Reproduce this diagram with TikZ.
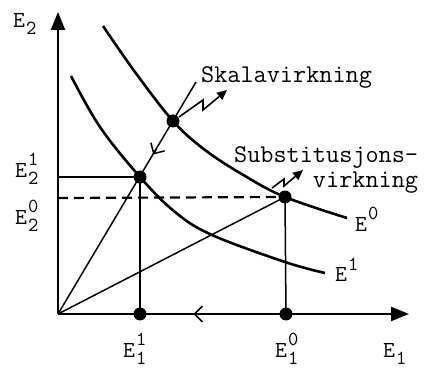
\documentclass[tikz,border=0pt]{standalone}
\usetikzlibrary{arrows.meta,calc}
\newcommand\txtfont{\ttfamily\fontsize{25.5}{28}\selectfont}
\newcommand\labfont{\ttfamily\fontsize{23}{26}\selectfont}
\newcommand\scrfont{\ttfamily\fontsize{20}{22}\selectfont}
\newcommand\EE[2]{E\kern1pt\rlap{\raisebox{12pt}{\scrfont #1}}\raisebox{-7pt}{\scrfont #2}}
\begin{document}
\begin{tikzpicture}[x=1pt,y=-1pt,
  axis/.style={line width=2.2pt},
  curve/.style={line width=2.6pt},
  thinline/.style={line width=1.5pt},
  dot/.style={circle,fill=black,inner sep=0pt,minimum size=13pt},
  lbl/.style={inner sep=0pt,font=\labfont},
  txt/.style={inner sep=0pt,font=\txtfont},
  bolt/.style={line width=1.6pt,-{Triangle[length=10pt,width=9pt]}},
  barb/.style={line width=1.5pt,-{Straight Barb[length=8pt,width=16pt]}}
  ]
\useasboundingbox (0,0) rectangle (424,369);
% points
\coordinate (O) at (58,314);
\coordinate (Ytop) at (58,12);
\coordinate (Xend) at (409,314);
\coordinate (Y1) at (58,177);
\coordinate (Y0) at (58,198);
\coordinate (R) at (196,82);
\coordinate (SkTip) at (227,90);
\coordinate (SuTip) at (303,170);
\node[dot] (P1) at (140,177) {};
\node[dot] (P0) at (285,197) {};
\node[dot] (S) at (173,121) {};
\node[dot] (X1) at (140,314) {};
\node[dot] (X0) at (286,314) {};
% axes
\draw[axis,-{Triangle[length=18pt,width=14pt]}] (O) -- (Ytop);
\draw[axis,-{Triangle[length=18pt,width=14pt]}] (O) -- (Xend);
% indifference curves
\draw[curve] plot[smooth,tension=0.6] coordinates {(103,26) (135,72) (173,121) (205,150) (245,176) (285,197) (347,218)};
\draw[curve] plot[smooth,tension=0.6] coordinates {(71,76) (100,127) (140,177) (175,212) (212,235) (285,262) (325,273)};
% rays and guides
\draw[thinline] (O) -- (R);
\draw[thinline] (O) -- (P0.center);
\draw[thinline] (P1.center) -- (X1.center);
\draw[thinline] (P0.center) -- (X0.center);
\draw[axis] (Y1) -- (P1.center);
\draw[axis,dash pattern=on 10pt off 6pt] (Y0) -- (P0.center);
% arrowheads on lines
\draw[barb] ($(S)!0.5!(P1)$) -- ($(S)!0.6!(P1)$);
\draw[barb] ($(X0)!0.55!(X1)$) -- ($(X0)!0.634!(X1)$);
% lightning arrows
\draw[bolt] ($(S)+(6,-4)$) -- ++(24,-17) -- ++(0,10) -- (SkTip);
\draw[bolt] ($(P0)+(-13,-9)$) -- ++(12,-9) -- ++(0,7) -- (SuTip);
% texts
\node[txt,anchor=base west] (sk) at (201,83) {Skalavirkning};
\node[txt,anchor=base west] (su) at (234,163) {Substitusjons-};
\node[txt,anchor=base east] (vi) at (su.base east |- 0,188) {virkning};
% labels
\node[lbl,anchor=base west] (lE2) at (13,28) {\EE{}{2}};
\node[lbl,anchor=base west] (lE21) at (15,178) {\EE{1}{2}};
\node[lbl,anchor=base west] (lE20) at (15,225) {\EE{0}{2}};
\node[lbl,anchor=base west] (lE11) at (123,357) {\EE{1}{1}};
\node[lbl,anchor=base west] (lE10) at (275,357) {\EE{0}{1}};
\node[lbl,anchor=base west] (lE1) at (383,357) {\EE{}{1}};
\node[lbl,anchor=base west] (lEs0) at (355,232) {\EE{0}{}};
\node[lbl,anchor=base west] (lEs1) at (335,282) {\EE{1}{}};
\end{tikzpicture}
\end{document}
